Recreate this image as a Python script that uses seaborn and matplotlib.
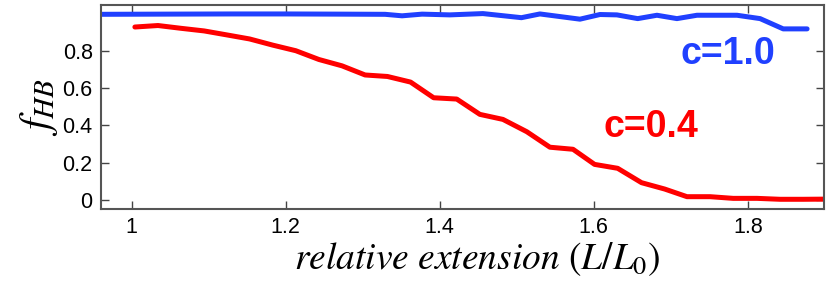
import numpy as np
import pandas as pd
import matplotlib
matplotlib.use("Agg")
import matplotlib.pyplot as plt
import seaborn as sns

sns.set_style("ticks")
plt.rcParams['font.family'] = ['Liberation Sans', 'DejaVu Sans']
plt.rcParams['mathtext.fontset'] = 'stix'

# c = 0.4 series
x_red = [1.004, 1.034, 1.064, 1.094, 1.123, 1.153, 1.183, 1.213, 1.243, 1.273,
         1.303, 1.332, 1.362, 1.392, 1.422, 1.452, 1.482, 1.513, 1.543, 1.573,
         1.601, 1.631, 1.662, 1.692, 1.721, 1.751, 1.781, 1.812, 1.842, 1.872, 1.905]
f_red = [0.927, 0.935, 0.920, 0.906, 0.885, 0.863, 0.830, 0.800, 0.753, 0.719,
         0.670, 0.662, 0.632, 0.548, 0.541, 0.459, 0.432, 0.366, 0.283, 0.272,
         0.191, 0.170, 0.093, 0.059, 0.018, 0.018, 0.009, 0.009, 0.004, 0.004, 0.005]

# c = 1.0 series
x_blue = [0.955, 1.04, 1.13, 1.20, 1.27, 1.329, 1.351, 1.377, 1.413, 1.456,
          1.506, 1.530, 1.582, 1.608, 1.630, 1.657, 1.682, 1.708, 1.734, 1.786,
          1.816, 1.846, 1.877]
f_blue = [0.995, 0.996, 0.997, 0.997, 0.996, 0.995, 0.987, 0.996, 0.992, 0.999,
          0.977, 0.997, 0.969, 0.994, 0.992, 0.972, 0.990, 0.972, 0.990, 0.990,
          0.972, 0.917, 0.917]

xticks = [1, 1.2, 1.4, 1.6, 1.8]
yticks = [0, 0.2, 0.4, 0.6, 0.8]
xtick_labels = ["1", "1.2", "1.4", "1.6", "1.8"]
ytick_labels = ["0", "0.2", "0.4", "0.6", "0.8"]

df_red = pd.DataFrame({"x": x_red, "f": f_red})
df_blue = pd.DataFrame({"x": x_blue, "f": f_blue})

fig = plt.figure(figsize=(8.3, 2.97), dpi=100)
ax = fig.add_axes([0.1217, 0.2963, 0.8711, 0.6869])

sns.lineplot(data=df_blue, x="x", y="f", color="#2040ff", linewidth=3.6, ax=ax)
sns.lineplot(data=df_red, x="x", y="f", color="#ff0000", linewidth=3.6, ax=ax)

ax.set_xlim(0.96, 1.899)
ax.set_ylim(-0.048, 1.045)
ax.set_xticks(xticks)
ax.set_xticklabels(xtick_labels)
ax.set_yticks(yticks)
ax.set_yticklabels(ytick_labels)
ax.tick_params(direction="in", length=6, width=1.0, color="#444444",
               labelsize=15.5, labelcolor="black", top=True, right=True, pad=6)
for s in ax.spines.values():
    s.set_visible(True)
    s.set_linewidth(1.5)
    s.set_color("#555555")

ax.set_xlabel(r"$relative\ extension\ (L/L_0)$", fontsize=27, labelpad=0,
              color="black")
ax.xaxis.set_label_coords(0.521, -0.155)
ax.set_ylabel(r"$f_{HB}$", fontsize=30, labelpad=2, color="black")

ax.text(1.774, 0.783, "c=1.0", color="#2040ff", fontsize=27, fontweight="bold",
        ha="center", va="center")
ax.text(1.674, 0.391, "c=0.4", color="#ff0000", fontsize=27, fontweight="bold",
        ha="center", va="center")

fig.savefig("out.png", dpi=100)
